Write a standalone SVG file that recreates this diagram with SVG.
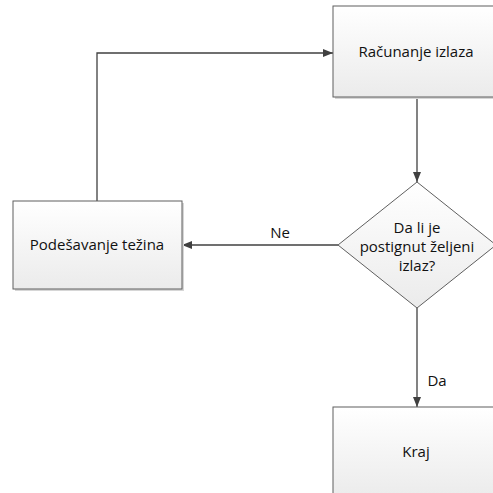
<svg xmlns="http://www.w3.org/2000/svg" width="493" height="493" viewBox="0 0 493 493">
<style>
.node{stroke:#5f5f5f;stroke-width:1;fill:url(#g)}
.shadow{fill:#d6d6d6;stroke:none}
.lbl{font-family:"Open Sans","Noto Sans",sans-serif;font-size:15px;fill:#111;text-anchor:middle}
.conn{stroke:#404040;stroke-width:1.3;fill:none;marker-end:url(#arr)}
</style>
<defs>
<linearGradient id="g" x1="0" y1="0" x2="0" y2="1">
<stop offset="0" stop-color="#ffffff"/>
<stop offset="1" stop-color="#ebebeb"/>
</linearGradient>
<marker id="arr" viewBox="0 0 10 8" refX="10" refY="4" markerWidth="10" markerHeight="8" markerUnits="userSpaceOnUse" orient="auto">
<path d="M0,0 L10,4 L0,8 Z" fill="#404040"/>
</marker>
</defs>
<rect width="493" height="493" fill="#fff"/>
<g id="connectors">
<path class="conn" d="M97,201 V53 H333"/>
<path class="conn" d="M417,97 V182"/>
<path class="conn" d="M338,245 H182"/>
<path class="conn" d="M417,308 V407"/>
<text class="lbl" x="280" y="238">Ne</text>
<text class="lbl" x="437" y="386">Da</text>
</g>
<g id="racunanje">
<rect class="shadow" x="335" y="8" width="168" height="91"/>
<rect class="node" x="333" y="6" width="168" height="91"/>
<text class="lbl" x="416" y="57">Računanje izlaza</text>
</g>
<g id="odluka">
<polygon class="node" points="417,182 496,245 417,308 338,245"/>
<text class="lbl" x="417" y="233">Da li je</text>
<text class="lbl" x="417" y="252">postignut željeni</text>
<text class="lbl" x="417" y="271">izlaz?</text>
</g>
<g id="podesavanje">
<rect class="shadow" x="15" y="203" width="169" height="88"/>
<rect class="node" x="13" y="201" width="169" height="88"/>
<text class="lbl" x="97" y="250">Podešavanje težina</text>
</g>
<g id="kraj">
<rect class="shadow" x="335" y="409" width="168" height="91"/>
<rect class="node" x="333" y="407" width="168" height="91"/>
<text class="lbl" x="416" y="457">Kraj</text>
</g>
</svg>
